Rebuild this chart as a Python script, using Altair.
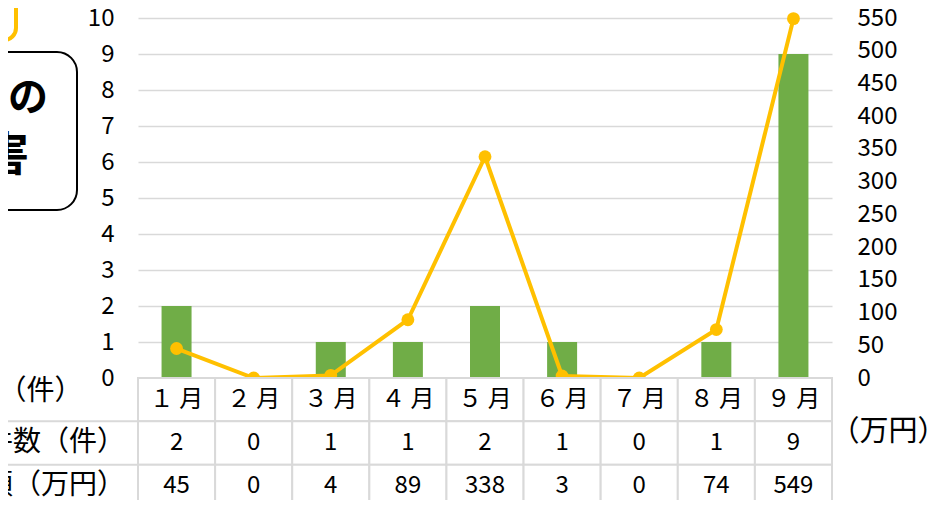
import altair as alt
import pandas as pd

months = ["1月", "2月", "3月", "4月", "5月", "6月", "7月", "8月", "9月"]
month_labels = ["１ 月", "２ 月", "３ 月", "４ 月", "５ 月", "６ 月", "７ 月", "８ 月", "９ 月"]
counts = [2, 0, 1, 1, 2, 1, 0, 1, 9]
amounts = [45, 0, 4, 89, 338, 3, 0, 74, 549]
rows = ["月", "件数", "被害額"]
row_labels = ["件数（件）", "被害額（万円）"]

FONT = "Noto Sans CJK JP"
GREEN = "#70AD47"
GOLD = "#FFC000"
GRID = "#d9d9d9"

df = pd.DataFrame({"month": months, "count": counts, "amount": amounts})

table_records = []
for m, lab, c, a in zip(months, month_labels, counts, amounts):
    table_records.append({"month": m, "row": "月", "text": lab})
    table_records.append({"month": m, "row": "件数", "text": str(c)})
    table_records.append({"month": m, "row": "被害額", "text": str(a)})
tdf = pd.DataFrame(table_records)
ldf = pd.DataFrame({"row": rows[1:], "label": row_labels})

xenc = alt.X("month:N", sort=months,
             scale=alt.Scale(domain=months, paddingInner=0, paddingOuter=0), axis=None)
row_scale = alt.Scale(domain=rows, range=[360, 490], paddingInner=0, paddingOuter=0)

bars = alt.Chart(df).mark_bar(size=30, color=GREEN).encode(
    x=xenc,
    y=alt.Y("count:Q", scale=alt.Scale(domain=[0, 10], range=[360, 0], nice=False),
            axis=alt.Axis(values=list(range(11)), labelFontSize=24, labelFont=FONT,
                          labelColor="black", labelPadding=24, ticks=False, domain=False,
                          gridColor=GRID, gridWidth=1.5,
                          title="（件）", titleAngle=0, titleX=-56, titleY=373,
                          titleAlign="right", titleBaseline="middle", titleFontSize=28,
                          titleFont=FONT, titleFontWeight="normal", titleColor="black")),
)

amt_y = alt.Y("amount:Q", scale=alt.Scale(domain=[0, 550], range=[360, 0], nice=False),
              axis=alt.Axis(values=list(range(0, 551, 50)), orient="right", labelFontSize=24,
                            labelFont=FONT, labelColor="black", labelPadding=25, ticks=False,
                            domain=False, grid=False,
                            title="（万円）", titleAngle=0, titleX=-2, titleY=413,
                            titleAlign="left", titleBaseline="middle", titleFontSize=29,
                            titleFont=FONT, titleFontWeight="normal", titleColor="black"))

line = alt.Chart(df).mark_line(color=GOLD, strokeWidth=4).encode(x=xenc, y=amt_y)
points = alt.Chart(df).mark_circle(size=165, color=GOLD, opacity=1).encode(
    x=xenc, y=alt.Y("amount:Q", scale=alt.Scale(domain=[0, 550], range=[360, 0], nice=False), axis=None))

cells = alt.Chart(tdf).mark_rect(fill="white", stroke=GRID, strokeWidth=2).encode(
    x=xenc, y=alt.Y("row:N", scale=row_scale, axis=None))
cell_text = alt.Chart(tdf).mark_text(font=FONT, fontSize=24, color="black", baseline="middle").encode(
    x=xenc, y=alt.Y("row:N", scale=row_scale, axis=None), text="text:N")

label_lines = alt.Chart(ldf).mark_rule(color=GRID, strokeWidth=2).encode(
    x=alt.value(-150), x2=alt.value(0),
    y=alt.Y("row:N", scale=row_scale, axis=None, bandPosition=0))
label_text = alt.Chart(ldf).mark_text(font=FONT, fontSize=28, color="black", align="right",
                                      baseline="middle").encode(
    x=alt.value(-13), y=alt.Y("row:N", scale=row_scale, axis=None), text="label:N")

one = pd.DataFrame({"a": [0]})
orange_box = alt.Chart(one).mark_rect(cornerRadius=12, fill="white", stroke=GOLD,
                                      strokeWidth=4).encode(
    x=alt.value(-300), x2=alt.value(-122), y=alt.value(-60), y2=alt.value(22))
black_box = alt.Chart(one).mark_rect(cornerRadius=20, fill="white", stroke="black",
                                     strokeWidth=2).encode(
    x=alt.value(-300), x2=alt.value(-61), y=alt.value(34), y2=alt.value(192))
deco_text1 = alt.Chart(pd.DataFrame({"t": ["の"]})).mark_text(
    font=FONT, fontSize=40, fontWeight="bold", color="black", align="right", baseline="middle"
).encode(x=alt.value(-90), y=alt.value(81), text="t:N")
deco_text2 = alt.Chart(pd.DataFrame({"t": ["害"]})).mark_text(
    font=FONT, fontSize=46, fontWeight="bold", color="black", align="right", baseline="middle"
).encode(x=alt.value(-109), y=alt.value(138), text="t:N")

chart = alt.layer(
    orange_box, black_box, deco_text1, deco_text2,
    bars, line, points, cells, cell_text, label_lines, label_text
).resolve_scale(y="independent").properties(
    width=694, height=482, autosize="none",
    padding={"left": 130, "top": 10, "right": 112, "bottom": 0},
).configure_view(stroke=None)

chart.save("out.html", embed_options={"renderer": "svg", "actions": False})
